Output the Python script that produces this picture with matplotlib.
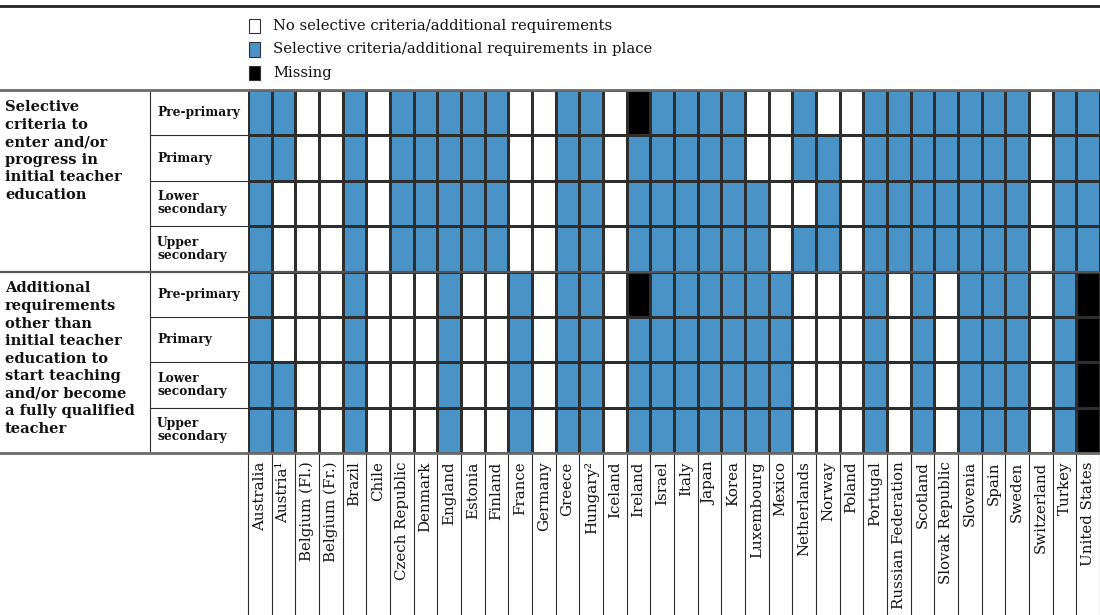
import numpy as np
import matplotlib
matplotlib.use("Agg")
import matplotlib.pyplot as plt
from matplotlib.colors import ListedColormap
from matplotlib.patches import Rectangle
from matplotlib.lines import Line2D

plt.rcParams['font.family'] = ['DejaVu Serif']

countries = ["Australia", "Austria¹", "Belgium (Fl.)", "Belgium (Fr.)", "Brazil", "Chile",
             "Czech Republic", "Denmark", "England", "Estonia", "Finland", "France",
             "Germany", "Greece", "Hungary²", "Iceland", "Ireland", "Israel", "Italy",
             "Japan", "Korea", "Luxembourg", "Mexico", "Netherlands", "Norway", "Poland",
             "Portugal", "Russian Federation", "Scotland", "Slovak Republic", "Slovenia",
             "Spain", "Sweden", "Switzerland", "Turkey", "United States"]

levels = ["Pre-primary", "Primary", "Lower\nsecondary", "Upper\nsecondary"]
sections = ["Selective\ncriteria to\nenter and/or\nprogress in\ninitial teacher\neducation",
            "Additional\nrequirements\nother than\ninitial teacher\neducation to\nstart teaching\nand/or become\na fully qualified\nteacher"]
legend_labels = ["No selective criteria/additional requirements",
                 "Selective criteria/additional requirements in place",
                 "Missing"]

# 0 = none, 1 = in place, 2 = missing
sel_pre   = [1,1,0,0,1,0,1,1,1,1,1,0,0,1,1,0,2,1,1,1,1,0,0,1,0,0,1,1,1,1,1,1,1,0,1,1]
sel_prim  = [1,1,0,0,1,0,1,1,1,1,1,0,0,1,1,0,1,1,1,1,1,0,0,1,1,0,1,1,1,1,1,1,1,0,1,1]
sel_low   = [1,0,0,0,1,0,1,1,1,1,1,0,0,1,1,0,1,1,1,1,1,1,0,0,1,0,1,1,1,1,1,1,1,0,1,1]
sel_upp   = [1,0,0,0,1,0,1,1,1,1,1,0,0,1,1,0,1,1,1,1,1,1,0,1,1,0,1,1,1,1,1,1,1,0,1,1]
add_pre   = [1,0,0,0,1,0,0,0,1,0,0,1,0,1,1,0,2,1,1,1,1,1,1,0,0,0,1,0,1,0,1,1,1,0,1,2]
add_prim  = [1,0,0,0,1,0,0,0,1,0,0,1,0,1,1,0,1,1,1,1,1,1,1,0,0,0,1,0,1,0,1,1,1,0,1,2]
add_low   = [1,1,0,0,1,0,0,0,1,0,0,1,0,1,1,0,1,1,1,1,1,1,1,0,0,0,1,0,1,0,1,1,1,0,1,2]
add_upp   = [1,1,0,0,1,0,0,0,1,0,0,1,0,1,1,0,1,1,1,1,1,1,1,0,0,0,1,0,1,0,1,1,1,0,1,2]

grid = np.array([sel_pre, sel_prim, sel_low, sel_upp, add_pre, add_prim, add_low, add_upp])

blue = '#4a93c7'
colors = ['white', blue, 'black']
edge = '#2e2e2e'

W, H = 1100, 615
fig = plt.figure(figsize=(11, 6.15), dpi=100)

def fx(px):
    return px / W

def fy(py):
    return 1 - py / H

# grid area in pixels
gx0, gx1, gy0, gy1 = 248, 1100, 90, 453
ax = fig.add_axes([fx(gx0), fy(gy1), fx(gx1 - gx0), (gy1 - gy0) / H])
nrow, ncol = grid.shape
ax.pcolormesh(np.arange(ncol + 1), np.arange(nrow + 1), grid,
              cmap=ListedColormap(colors), vmin=-0.5, vmax=2.5,
              edgecolors=edge, linewidth=0.8)
ax.set_xlim(0, ncol)
ax.set_ylim(nrow, 0)
for s in ax.spines.values():
    s.set_visible(False)
ax.set_yticks([])
ax.set_xticks(np.arange(ncol) + 0.5)
ax.set_xticklabels(countries, rotation=90, fontsize=10.8, color='#111')
ax.tick_params(axis='x', length=0, pad=6)

# vertical lines running down through the country labels
row_px = (gy1 - gy0) / nrow
ax.vlines(np.arange(ncol + 1), nrow, nrow + (H - gy1) / row_px, colors=edge,
          linewidth=0.8, clip_on=False)

# row label column
trans = ax.get_yaxis_transform()
lab_x = -(gx0 - 150) / (gx1 - gx0)
full_x = -gx0 / (gx1 - gx0)
ax.vlines(lab_x, 0, nrow, transform=trans, colors=edge, linewidth=0.8, clip_on=False)
for r in range(1, nrow):
    if r % 4 == 0:
        ax.plot([full_x, 1], [r, r], transform=trans, color='#555', linewidth=1.6, clip_on=False)
    else:
        ax.plot([lab_x, 0], [r, r], transform=trans, color=edge, linewidth=0.8, clip_on=False)
for y in (0, nrow):
    ax.plot([full_x, 1], [y, y], transform=trans, color='#6b6b6b', linewidth=2.0, clip_on=False)

sub_x = -(gx0 - 157) / (gx1 - gx0)
for r in range(nrow):
    ax.text(sub_x, r + 0.5, levels[r % 4], transform=trans, ha='left', va='center',
            fontsize=8.8, fontweight='bold', color='#111', linespacing=1.0)

sec_x = -(gx0 - 5) / (gx1 - gx0)
for i, s in enumerate(sections):
    ax.text(sec_x, i * 4 + 0.22, s, transform=trans, ha='left', va='top',
            fontsize=10.5, fontweight='bold', color='#111', linespacing=1.32)

# top rule
fig.add_artist(Line2D([0, 1], [fy(6), fy(6)], color='#222', linewidth=2.0))

# legend
for i, (lab, c) in enumerate(zip(legend_labels, colors)):
    yc = 26 + i * 23.5
    fig.add_artist(Rectangle((fx(249), fy(yc + 7)), fx(11), 14 / H,
                             facecolor=c, edgecolor='#333', linewidth=0.8))
    fig.text(fx(273), fy(yc), lab, ha='left', va='center', fontsize=10.6, color='#111')

fig.savefig('out.png', dpi=100)
